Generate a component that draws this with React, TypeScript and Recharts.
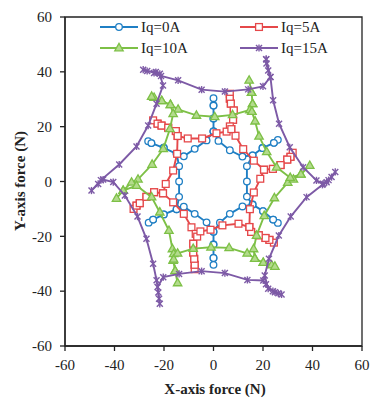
import { ScatterChart, Scatter, XAxis, YAxis, ReferenceArea } from "recharts";

// force loci [x, y] in N, in drawing order
const IQ0 = [
  [0, 18.3], [0, 23], [0, 27.7], [0, 30.4], [0, 27.7], [0, 23], [0, 18.3],
  [-2.8, 15], [-7.6, 11.9], [-12, 9.2], [-14.9, 10.1], [-20.1, 12.3], [-25.1, 14], [-26.4, 14.7],
  [-25.1, 14], [-20.1, 12.3], [-14.9, 10.1],
  [-13.9, 5.6], [-13.9, 0], [-13.9, -5.6],
  [-14.9, -10.1], [-20.1, -12], [-24.4, -13.9], [-26.2, -15], [-24.4, -13.9], [-20.1, -12], [-14.9, -10.1],
  [-12, -9.2], [-7.6, -11.8], [-2.8, -14.9], [0, -18.3], [0, -23], [0, -27.9], [0, -30.4],
  [0, -27.9], [0, -23], [0, -18.3],
  [2.6, -15], [6.6, -11.8], [11.7, -9.1], [15.8, -8.4], [20, -10.8], [24.1, -13.9], [26, -15.1],
  [24.1, -13.9], [20, -10.8], [15.8, -8.4],
  [13.5, -5.5], [13.5, 0], [13.5, 5.6],
  [15.8, 9.5], [19.8, 12.2], [24.4, 14.1], [26, 15.2], [24.4, 14.1], [19.8, 12.2], [15.8, 9.5],
  [11.7, 9.1], [6.6, 11.4], [2, 14.8], [0, 18.3],
];

const IQ5 = [
  [7.2, 19.1], [7.9, 22.5], [8.2, 25.9], [7, 28.4], [6.6, 30.2], [6.6, 32], [6.6, 30.2], [7, 28.4],
  [8.2, 25.9], [7.9, 22.5], [6.6, 20.1], [5.3, 18.2],
  [1.2, 17.6], [-4.6, 15.7], [-10.4, 15.7], [-14.5, 16.6],
  [-15.2, 18.4], [-18.3, 19.6], [-21, 20.4], [-22.6, 21.1], [-24.4, 22.3], [-22.6, 21.1], [-21, 20.4],
  [-18.3, 19.6], [-15.2, 18.4], [-14.5, 16.6],
  [-14.7, 10.1], [-16.3, 4], [-19.3, -0.9], [-20.4, -4.3],
  [-24, -3.9], [-27.1, -5.6], [-29.8, -7.9], [-31.1, -8.8], [-32.3, -10], [-31.1, -8.8], [-29.8, -7.9],
  [-27.1, -5.6], [-24, -3.9], [-20.4, -4.3],
  [-16.3, -7.6], [-12, -11.8], [-8.9, -16.7], [-7.2, -19.1],
  [-8.2, -22.7], [-8.2, -25.9], [-7.8, -28.2], [-7.6, -30.4], [-7.6, -32], [-7.6, -30.4], [-7.8, -28.2],
  [-8.2, -25.9], [-8.2, -22.7], [-6.6, -20.1], [-5.3, -18.2],
  [-1.2, -17.6], [3.6, -16], [10.1, -15.4], [14.5, -16.6],
  [15.2, -18.4], [18.3, -19.6], [21, -20.6], [22.6, -21.3], [24.4, -22.3], [22.6, -21.3], [21, -20.6],
  [18.3, -19.6], [15.2, -18.4], [14.5, -16.6],
  [14.7, -10.1], [16.3, -4], [18.9, 1], [20.4, 4.3],
  [24, 4.6], [27.1, 6], [29.8, 8], [31.1, 9], [32, 10.5], [31.1, 9], [29.8, 8], [27.1, 6], [24, 4.6], [20.4, 4.3],
  [16.3, 7.6], [12, 11.8], [8.9, 16.7], [7.2, 19.1],
];

const IQ10 = [
  [15.5, 25.5], [15.8, 28.3], [15.4, 32.4], [14.4, 36.9], [15.4, 32.4], [15.8, 28.3],
  [14.7, 26.1], [7.7, 24.3], [0.5, 23.6], [-6.9, 24.1], [-14.3, 26.3], [-17.4, 28],
  [-20.9, 29.4], [-24, 30.6], [-25, 31], [-20.9, 29.4], [-17.4, 28],
  [-16.3, 24.7], [-17.6, 19.2], [-20.3, 11.9], [-24.8, 6.2], [-30.5, 0.8], [-33.1, -0.3],
  [-36.5, -3.3], [-39.2, -6.2], [-36.5, -3.3],
  [-31.1, -1.5], [-25, -5.7], [-21.7, -11.2], [-18, -17.9], [-16.6, -24.6], [-16.1, -26.4],
  [-16.3, -28.8], [-15.5, -32.6], [-14.5, -37], [-15.5, -32.6], [-16.1, -28.4],
  [-14.5, -26.2], [-8.2, -24.5], [-1, -24], [6.3, -24.2], [13.6, -26.2], [16.7, -28.1],
  [20.1, -29.6], [23.5, -30.5], [24.8, -31], [20.1, -29.6], [16.7, -28.1],
  [16.2, -24.6], [17.4, -19.7], [20.5, -12.5], [24.6, -6], [30, -0.4], [32.3, 0.8],
  [35.3, 2.6], [38.9, 5.8], [35.3, 2.6],
  [31, 1.4], [25.5, 5.2], [21.5, 10.8], [18.4, 16.5], [16.8, 22], [15.5, 25.5],
];

const IQ15 = [
  [21.3, 44.6], [21.4, 43], [22.1, 40.5], [23, 38.1],
  [24.1, 29.6], [26.5, 21.1], [30.8, 12.5], [36.2, 5.2], [41.6, 0.4], [44.3, -0.8], [45.7, -0.3],
  [47.7, 1.6], [49.2, 3.5], [46.5, 0.5], [44, -1.2],
  [37.6, -5.7], [31.2, -12.8], [26.4, -19.7], [22.4, -28.2], [20.7, -34.3], [22.1, -39.1], [24.8, -40.4],
  [26.2, -40.8], [27.5, -41.2], [24, -40], [21.2, -37.5],
  [20.1, -36.1], [13.7, -35.9], [4.6, -33.4], [-4.8, -32.7], [-13.9, -33.7], [-20.3, -34.9],
  [-22.6, -38.5], [-22, -42.8], [-21.7, -44.6], [-22.3, -40.5], [-23, -36],
  [-24.4, -30], [-27.1, -20.9], [-30.7, -12.8], [-35.8, -5.1], [-40.5, -0.2], [-44.6, 0.7],
  [-46.6, -0.9], [-49.3, -3.3], [-45.5, 0.5],
  [-38.1, 6.2], [-31.1, 12.8], [-26.4, 20.4], [-23, 28.4], [-20.4, 35], [-21.7, 39.3],
  [-23.3, 39.9], [-26.8, 40.3], [-28.4, 40.8], [-24, 39.6], [-21.2, 38.5],
  [-14.3, 36.9], [-4.8, 33.5], [4.6, 32.8], [14, 33.6], [20, 34.7], [23, 38.1], [21.3, 44.6],
];

const SERIES = ["Iq=0A", "Iq=5A", "Iq=10A", "Iq=15A"];
const COLORS = ["#1f7fc4", "#e5484a", "#7dc046", "#7d5aa6"];
const TICKS = [-60, -40, -20, 0, 20, 40, 60];

const toPts = (arr: number[][]) => arr.map(([x, y]) => ({ x, y }));

const FONT = '"Times New Roman", "Liberation Serif", serif';

const Circle = (color: string) => (p: any) => (
  <circle cx={p.cx} cy={p.cy} r={3.3} fill="#fff" stroke={color} strokeWidth={1.3} />
);
const Square = (color: string) => (p: any) => (
  <rect x={p.cx - 3.4} y={p.cy - 3.4} width={6.8} height={6.8} fill="#fff" stroke={color} strokeWidth={1.3} />
);
const Triangle = (color: string) => (p: any) => (
  <polygon
    points={`${p.cx},${p.cy - 4.6} ${p.cx + 4.2},${p.cy + 2.8} ${p.cx - 4.2},${p.cy + 2.8}`}
    fill="#b3db8c"
    stroke={color}
    strokeWidth={1.3}
  />
);
const Star = (color: string) => (p: any) => (
  <g stroke={color} strokeWidth={1.4}>
    <line x1={p.cx - 3} y1={p.cy - 3} x2={p.cx + 3} y2={p.cy + 3} />
    <line x1={p.cx - 3} y1={p.cy + 3} x2={p.cx + 3} y2={p.cy - 3} />
    <line x1={p.cx} y1={p.cy - 3.6} x2={p.cx} y2={p.cy + 3.6} />
  </g>
);

const SHAPES = [Circle, Square, Triangle, Star];
const DATA = [IQ0, IQ5, IQ10, IQ15];

function LegendItem({ i, x, y }: { i: number; x: number; y: number }) {
  const Shape = SHAPES[i](COLORS[i]);
  return (
    <div style={{ position: "absolute", left: x, top: y - 10, height: 20, display: "flex", alignItems: "center" }}>
      <svg width={38} height={20}>
        <line x1={0} y1={10} x2={38} y2={10} stroke={COLORS[i]} strokeWidth={1.8} />
        <Shape cx={19} cy={10} />
      </svg>
      <span style={{ fontFamily: FONT, fontSize: 15, color: "#222", marginLeft: 3 }}>{SERIES[i]}</span>
    </div>
  );
}

export default function App() {
  const tickStyle = { fontFamily: FONT, fontSize: 15, fill: "#222" };
  return (
    <div style={{ position: "absolute", left: 0, top: 0, width: 370, height: 400, background: "#fff" }}>
      <ScatterChart width={370} height={400} margin={{ top: 17, right: 8, left: 0, bottom: 0 }}>
        <XAxis
          type="number"
          dataKey="x"
          domain={[-60, 60]}
          ticks={TICKS}
          tick={tickStyle}
          tickSize={5}
          tickMargin={8}
          height={54}
          stroke="#222"
          strokeWidth={1.3}
          allowDataOverflow
          label={{
            content: () => (
              <text x={215} y={394} textAnchor="middle" fontFamily={FONT} fontSize={15} fontWeight="bold" fill="#222">
                X-axis force (N)
              </text>
            ),
          }}
        />
        <YAxis
          type="number"
          dataKey="y"
          domain={[-60, 60]}
          ticks={TICKS}
          tick={tickStyle}
          tickSize={5}
          tickMargin={8}
          width={65}
          stroke="#222"
          strokeWidth={1.3}
          allowDataOverflow
          label={{
            content: () => (
              <text
                x={25}
                y={181}
                transform="rotate(-90 25 181)"
                textAnchor="middle"
                fontFamily={FONT}
                fontSize={15}
                fontWeight="bold"
                fill="#222"
              >
                Y-axis force (N)
              </text>
            ),
          }}
        />
        <ReferenceArea x1={-60} x2={60} y1={-60} y2={60} fill="none" stroke="#222" strokeWidth={1.3} ifOverflow="visible" />
        {DATA.map((d, i) => (
          <Scatter
            key={SERIES[i]}
            name={SERIES[i]}
            data={toPts(d)}
            line={{ stroke: COLORS[i], strokeWidth: 1.9 }}
            lineJointType="linear"
            shape={SHAPES[i](COLORS[i])}
            isAnimationActive={false}
          />
        ))}
      </ScatterChart>
      <LegendItem i={0} x={100} y={27} />
      <LegendItem i={1} x={240} y={27} />
      <LegendItem i={2} x={100} y={48} />
      <LegendItem i={3} x={240} y={48} />
    </div>
  );
}
